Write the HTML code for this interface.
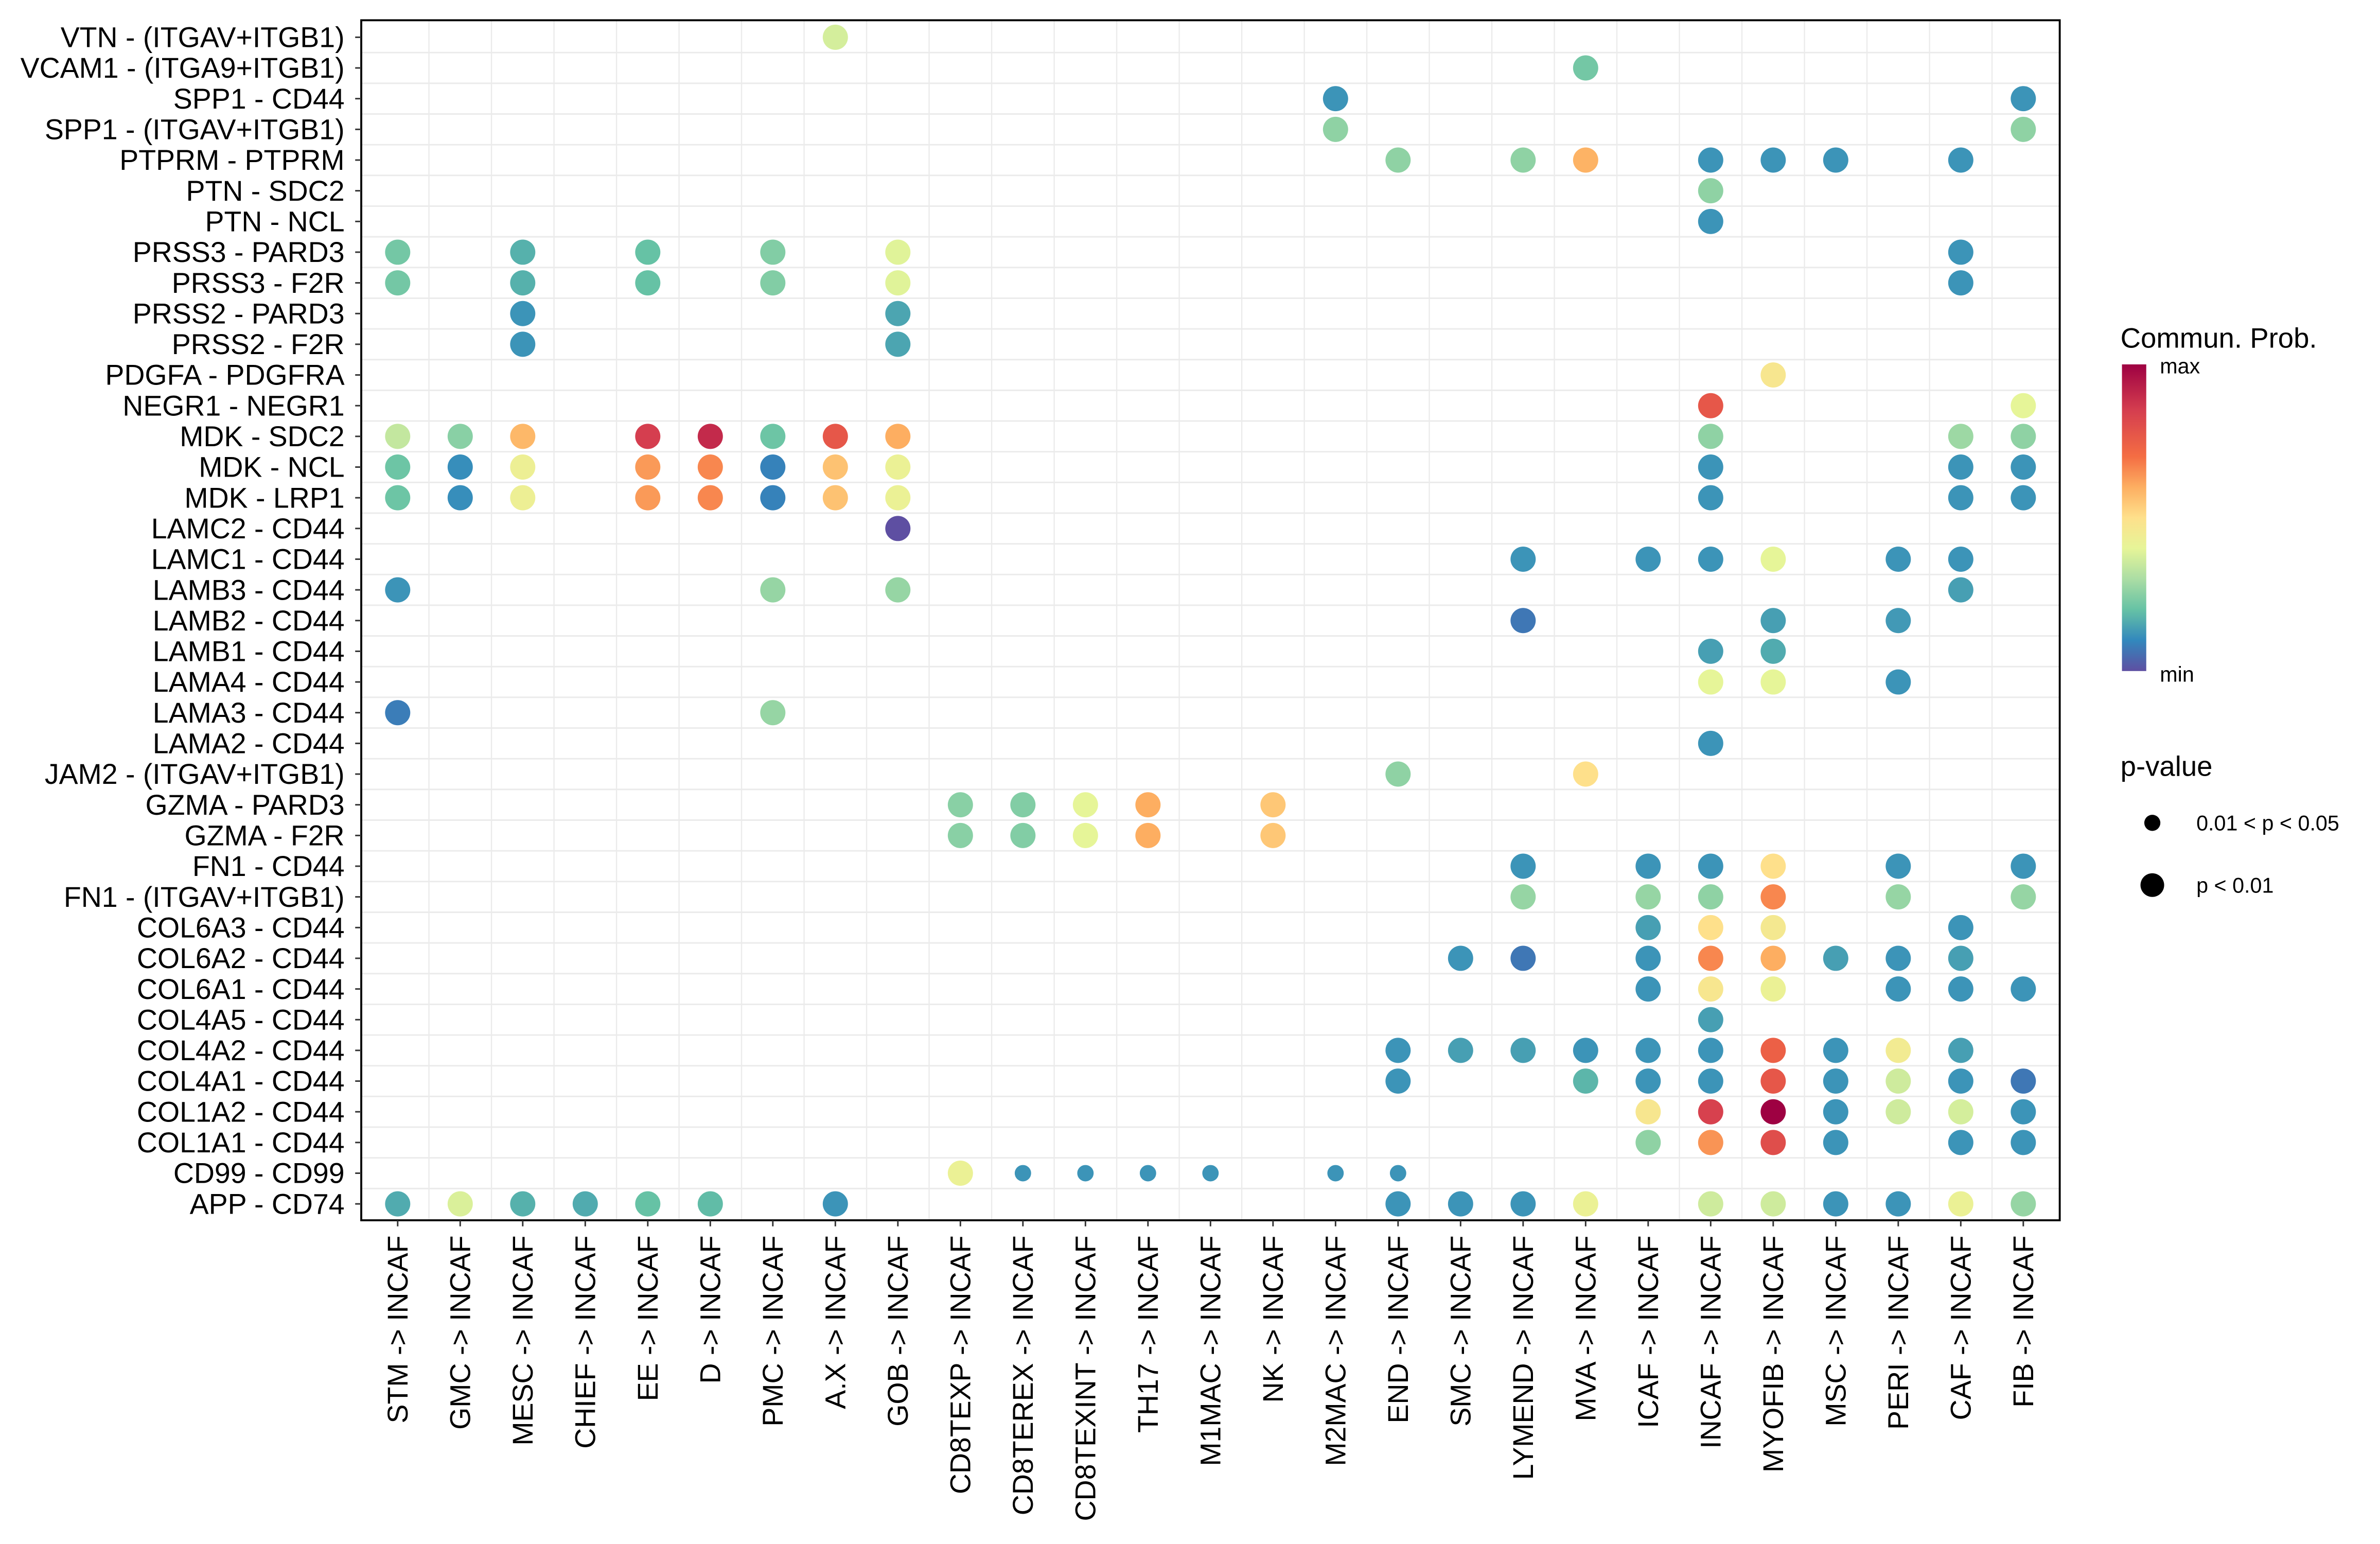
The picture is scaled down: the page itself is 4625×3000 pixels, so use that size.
<!DOCTYPE html>
<html><head><meta charset="utf-8"><style>
html,body{margin:0;padding:0;background:#fff;}
svg{display:block;}
text{font-family:"Liberation Sans",Arial,sans-serif;fill:#000;}
</style></head>
<body>
<svg id="chart" width="4625" height="3000" viewBox="0 0 1568 1017" xmlns="http://www.w3.org/2000/svg">
<defs>
<linearGradient id="spec" x1="0" y1="1" x2="0" y2="0">
<stop offset="0" stop-color="#5E4FA2"/><stop offset="0.1" stop-color="#3288BD"/><stop offset="0.2" stop-color="#66C2A5"/>
<stop offset="0.3" stop-color="#ABDDA4"/><stop offset="0.4" stop-color="#E6F598"/><stop offset="0.5" stop-color="#FEE08B"/>
<stop offset="0.6" stop-color="#FDAE61"/><stop offset="0.7" stop-color="#F46D43"/><stop offset="0.85" stop-color="#D53E4F"/><stop offset="1" stop-color="#9E0142"/>
</linearGradient>
</defs>
<g id="grid"></g>
<g id="points"></g>
<rect x="238" y="13.3" width="1119" height="790.5" fill="none" stroke="#000" stroke-width="1.3"/>
<g id="yaxis"></g>
<g id="xaxis"></g>
<g>
<text x="1397" y="229" font-size="18.5">Commun. Prob.</text>
<rect x="1398" y="240" width="16" height="202" fill="url(#spec)"/>
<text x="1423" y="246" font-size="14">max</text>
<text x="1423" y="449" font-size="14">min</text>
</g>
<g>
<text x="1397" y="511" font-size="18.5">p-value</text>
<circle cx="1418" cy="542" r="5.3" fill="#000"/>
<circle cx="1418" cy="583" r="7.8" fill="#000"/>
<text x="1447" y="547" font-size="14">0.01 &lt; p &lt; 0.05</text>
<text x="1447" y="588" font-size="14">p &lt; 0.01</text>
</g>
</svg>
<script>
const columns=["STM","GMC","MESC","CHIEF","EE","D","PMC","A.X","GOB","CD8TEXP","CD8TEREX","CD8TEXINT","TH17","M1MAC","NK","M2MAC","END","SMC","LYMEND","MVA","ICAF","INCAF","MYOFIB","MSC","PERI","CAF","FIB"];
const rows=["VTN - (ITGAV+ITGB1)","VCAM1 - (ITGA9+ITGB1)","SPP1 - CD44","SPP1 - (ITGAV+ITGB1)","PTPRM - PTPRM","PTN - SDC2","PTN - NCL","PRSS3 - PARD3","PRSS3 - F2R","PRSS2 - PARD3","PRSS2 - F2R","PDGFA - PDGFRA","NEGR1 - NEGR1","MDK - SDC2","MDK - NCL","MDK - LRP1","LAMC2 - CD44","LAMC1 - CD44","LAMB3 - CD44","LAMB2 - CD44","LAMB1 - CD44","LAMA4 - CD44","LAMA3 - CD44","LAMA2 - CD44","JAM2 - (ITGAV+ITGB1)","GZMA - PARD3","GZMA - F2R","FN1 - CD44","FN1 - (ITGAV+ITGB1)","COL6A3 - CD44","COL6A2 - CD44","COL6A1 - CD44","COL4A5 - CD44","COL4A2 - CD44","COL4A1 - CD44","COL1A2 - CD44","COL1A1 - CD44","CD99 - CD99","APP - CD74"];
// [row, column, prob (0..1), significant p<0.01 ? 1 : 0]
const pointData=[
["VTN - (ITGAV+ITGB1)","A.X",0.37,1],
["VCAM1 - (ITGA9+ITGB1)","MVA",0.22,1],
["SPP1 - CD44","M2MAC",0.12,1],["SPP1 - CD44","FIB",0.12,1],
["SPP1 - (ITGAV+ITGB1)","M2MAC",0.26,1],["SPP1 - (ITGAV+ITGB1)","FIB",0.26,1],
["PTPRM - PTPRM","END",0.26,1],["PTPRM - PTPRM","LYMEND",0.26,1],["PTPRM - PTPRM","MVA",0.59,1],["PTPRM - PTPRM","INCAF",0.12,1],["PTPRM - PTPRM","MYOFIB",0.12,1],["PTPRM - PTPRM","MSC",0.12,1],["PTPRM - PTPRM","CAF",0.12,1],
["PTN - SDC2","INCAF",0.26,1],
["PTN - NCL","INCAF",0.12,1],
["PRSS3 - PARD3","STM",0.22,1],["PRSS3 - PARD3","MESC",0.17,1],["PRSS3 - PARD3","EE",0.2,1],["PRSS3 - PARD3","PMC",0.24,1],["PRSS3 - PARD3","GOB",0.39,1],["PRSS3 - PARD3","CAF",0.12,1],
["PRSS3 - F2R","STM",0.22,1],["PRSS3 - F2R","MESC",0.17,1],["PRSS3 - F2R","EE",0.2,1],["PRSS3 - F2R","PMC",0.24,1],["PRSS3 - F2R","GOB",0.39,1],["PRSS3 - F2R","CAF",0.12,1],
["PRSS2 - PARD3","MESC",0.12,1],["PRSS2 - PARD3","GOB",0.15,1],
["PRSS2 - F2R","MESC",0.12,1],["PRSS2 - F2R","GOB",0.15,1],
["PDGFA - PDGFRA","MYOFIB",0.47,1],
["NEGR1 - NEGR1","INCAF",0.77,1],["NEGR1 - NEGR1","FIB",0.4,1],
["MDK - SDC2","STM",0.34,1],["MDK - SDC2","GMC",0.25,1],["MDK - SDC2","MESC",0.58,1],["MDK - SDC2","EE",0.85,1],["MDK - SDC2","D",0.9,1],["MDK - SDC2","PMC",0.21,1],["MDK - SDC2","A.X",0.77,1],["MDK - SDC2","GOB",0.6,1],["MDK - SDC2","INCAF",0.26,1],["MDK - SDC2","CAF",0.28,1],["MDK - SDC2","FIB",0.26,1],
["MDK - NCL","STM",0.21,1],["MDK - NCL","GMC",0.11,1],["MDK - NCL","MESC",0.43,1],["MDK - NCL","EE",0.63,1],["MDK - NCL","D",0.66,1],["MDK - NCL","PMC",0.09,1],["MDK - NCL","A.X",0.56,1],["MDK - NCL","GOB",0.42,1],["MDK - NCL","INCAF",0.12,1],["MDK - NCL","CAF",0.12,1],["MDK - NCL","FIB",0.12,1],
["MDK - LRP1","STM",0.21,1],["MDK - LRP1","GMC",0.11,1],["MDK - LRP1","MESC",0.43,1],["MDK - LRP1","EE",0.63,1],["MDK - LRP1","D",0.66,1],["MDK - LRP1","PMC",0.09,1],["MDK - LRP1","A.X",0.56,1],["MDK - LRP1","GOB",0.42,1],["MDK - LRP1","INCAF",0.12,1],["MDK - LRP1","CAF",0.12,1],["MDK - LRP1","FIB",0.12,1],
["LAMC2 - CD44","GOB",0.0,1],
["LAMC1 - CD44","LYMEND",0.12,1],["LAMC1 - CD44","ICAF",0.12,1],["LAMC1 - CD44","INCAF",0.12,1],["LAMC1 - CD44","MYOFIB",0.4,1],["LAMC1 - CD44","PERI",0.12,1],["LAMC1 - CD44","CAF",0.12,1],
["LAMB3 - CD44","STM",0.12,1],["LAMB3 - CD44","PMC",0.27,1],["LAMB3 - CD44","GOB",0.27,1],["LAMB3 - CD44","CAF",0.14,1],
["LAMB2 - CD44","LYMEND",0.07,1],["LAMB2 - CD44","MYOFIB",0.14,1],["LAMB2 - CD44","PERI",0.13,1],
["LAMB1 - CD44","INCAF",0.14,1],["LAMB1 - CD44","MYOFIB",0.16,1],
["LAMA4 - CD44","INCAF",0.4,1],["LAMA4 - CD44","MYOFIB",0.4,1],["LAMA4 - CD44","PERI",0.12,1],
["LAMA3 - CD44","STM",0.08,1],["LAMA3 - CD44","PMC",0.27,1],
["LAMA2 - CD44","INCAF",0.12,1],
["JAM2 - (ITGAV+ITGB1)","END",0.26,1],["JAM2 - (ITGAV+ITGB1)","MVA",0.5,1],
["GZMA - PARD3","CD8TEXP",0.25,1],["GZMA - PARD3","CD8TEREX",0.24,1],["GZMA - PARD3","CD8TEXINT",0.4,1],["GZMA - PARD3","TH17",0.6,1],["GZMA - PARD3","NK",0.55,1],
["GZMA - F2R","CD8TEXP",0.25,1],["GZMA - F2R","CD8TEREX",0.24,1],["GZMA - F2R","CD8TEXINT",0.4,1],["GZMA - F2R","TH17",0.6,1],["GZMA - F2R","NK",0.55,1],
["FN1 - CD44","LYMEND",0.12,1],["FN1 - CD44","ICAF",0.12,1],["FN1 - CD44","INCAF",0.12,1],["FN1 - CD44","MYOFIB",0.5,1],["FN1 - CD44","PERI",0.12,1],["FN1 - CD44","FIB",0.12,1],
["FN1 - (ITGAV+ITGB1)","LYMEND",0.27,1],["FN1 - (ITGAV+ITGB1)","ICAF",0.27,1],["FN1 - (ITGAV+ITGB1)","INCAF",0.26,1],["FN1 - (ITGAV+ITGB1)","MYOFIB",0.66,1],["FN1 - (ITGAV+ITGB1)","PERI",0.27,1],["FN1 - (ITGAV+ITGB1)","FIB",0.27,1],
["COL6A3 - CD44","ICAF",0.14,1],["COL6A3 - CD44","INCAF",0.5,1],["COL6A3 - CD44","MYOFIB",0.46,1],["COL6A3 - CD44","CAF",0.12,1],
["COL6A2 - CD44","SMC",0.12,1],["COL6A2 - CD44","LYMEND",0.07,1],["COL6A2 - CD44","ICAF",0.12,1],["COL6A2 - CD44","INCAF",0.66,1],["COL6A2 - CD44","MYOFIB",0.6,1],["COL6A2 - CD44","MSC",0.14,1],["COL6A2 - CD44","PERI",0.12,1],["COL6A2 - CD44","CAF",0.14,1],
["COL6A1 - CD44","ICAF",0.12,1],["COL6A1 - CD44","INCAF",0.47,1],["COL6A1 - CD44","MYOFIB",0.42,1],["COL6A1 - CD44","PERI",0.12,1],["COL6A1 - CD44","CAF",0.12,1],["COL6A1 - CD44","FIB",0.12,1],
["COL4A5 - CD44","INCAF",0.14,1],
["COL4A2 - CD44","END",0.12,1],["COL4A2 - CD44","SMC",0.14,1],["COL4A2 - CD44","LYMEND",0.14,1],["COL4A2 - CD44","MVA",0.12,1],["COL4A2 - CD44","ICAF",0.12,1],["COL4A2 - CD44","INCAF",0.12,1],["COL4A2 - CD44","MYOFIB",0.74,1],["COL4A2 - CD44","MSC",0.12,1],["COL4A2 - CD44","PERI",0.45,1],["COL4A2 - CD44","CAF",0.14,1],
["COL4A1 - CD44","END",0.12,1],["COL4A1 - CD44","MVA",0.18,1],["COL4A1 - CD44","ICAF",0.12,1],["COL4A1 - CD44","INCAF",0.12,1],["COL4A1 - CD44","MYOFIB",0.77,1],["COL4A1 - CD44","MSC",0.12,1],["COL4A1 - CD44","PERI",0.36,1],["COL4A1 - CD44","CAF",0.12,1],["COL4A1 - CD44","FIB",0.07,1],
["COL1A2 - CD44","ICAF",0.47,1],["COL1A2 - CD44","INCAF",0.84,1],["COL1A2 - CD44","MYOFIB",1.0,1],["COL1A2 - CD44","MSC",0.12,1],["COL1A2 - CD44","PERI",0.36,1],["COL1A2 - CD44","CAF",0.37,1],["COL1A2 - CD44","FIB",0.12,1],
["COL1A1 - CD44","ICAF",0.26,1],["COL1A1 - CD44","INCAF",0.64,1],["COL1A1 - CD44","MYOFIB",0.8,1],["COL1A1 - CD44","MSC",0.12,1],["COL1A1 - CD44","CAF",0.12,1],["COL1A1 - CD44","FIB",0.12,1],
["CD99 - CD99","CD8TEXP",0.42,1],["CD99 - CD99","CD8TEREX",0.12,0],["CD99 - CD99","CD8TEXINT",0.12,0],["CD99 - CD99","TH17",0.12,0],["CD99 - CD99","M1MAC",0.12,0],["CD99 - CD99","M2MAC",0.12,0],["CD99 - CD99","END",0.12,0],
["APP - CD74","STM",0.16,1],["APP - CD74","GMC",0.38,1],["APP - CD74","MESC",0.17,1],["APP - CD74","CHIEF",0.16,1],["APP - CD74","EE",0.2,1],["APP - CD74","D",0.19,1],["APP - CD74","A.X",0.12,1],["APP - CD74","END",0.12,1],["APP - CD74","SMC",0.12,1],["APP - CD74","LYMEND",0.12,1],["APP - CD74","MVA",0.42,1],["APP - CD74","INCAF",0.36,1],["APP - CD74","MYOFIB",0.36,1],["APP - CD74","MSC",0.12,1],["APP - CD74","PERI",0.12,1],["APP - CD74","CAF",0.42,1],["APP - CD74","FIB",0.27,1]
];
(function(){
const NS="http://www.w3.org/2000/svg";
const pLeft=238,pRight=1357,pTop=13.3,pBottom=803.8;
const x0=262,x1=1333,y0=24.5,y1=793;
function xScale(c){const i=columns.indexOf(c);return x0+i*((x1-x0)/(columns.length-1));}
function yScale(r){const i=rows.indexOf(r);return y0+i*((y1-y0)/(rows.length-1));}
const stops=[[0,[94,79,162]],[0.1,[50,136,189]],[0.2,[102,194,165]],[0.3,[171,221,164]],[0.4,[230,245,152]],[0.5,[254,224,139]],[0.6,[253,174,97]],[0.7,[244,109,67]],[0.85,[213,62,79]],[1,[158,1,66]]];
function color(v){for(let i=1;i<stops.length;i++){if(v<=stops[i][0]){const a=stops[i-1],b=stops[i];const t=(v-a[0])/(b[0]-a[0]);const c=a[1].map((x,k)=>Math.round(x+(b[1][k]-x)*t));return 'rgb('+c.join(',')+')';}}return 'rgb(158,1,66)';}
function mk(tag,attrs){const e=document.createElementNS(NS,tag);for(const k in attrs)e.setAttribute(k,attrs[k]);return e;}
const grid=document.getElementById('grid');
const dx=(x1-x0)/(columns.length-1),dy=(y1-y0)/(rows.length-1);
for(let i=0;i<columns.length-1;i++){
 const gx=xScale(columns[i])+dx/2;
 const l=mk('line',{x1:gx,x2:gx,y1:pTop,y2:pBottom,stroke:'#EBEBEB','stroke-width':0.8});
 
 
 grid.appendChild(l);
}
for(let i=0;i<rows.length-1;i++){
 const gy=yScale(rows[i])+dy/2;
 const l=mk('line',{x1:pLeft,x2:pRight,y1:gy,y2:gy,stroke:'#EBEBEB','stroke-width':1});
 
 
 grid.appendChild(l);
}
const yax=document.getElementById('yaxis');
rows.forEach(function(r){const y=yScale(r);
 const t=mk('line',{x1:pLeft-4,x2:pLeft,y1:y,y2:y,stroke:'#333','stroke-width':1});
 
 
 yax.appendChild(t);
 const tx=mk('text',{x:pLeft-11,y:y+6.5,'text-anchor':'end','font-size':18.8});
 tx.textContent=r;
 
 
 yax.appendChild(tx);});
const xax=document.getElementById('xaxis');
columns.forEach(function(c){const x=xScale(c);
 const t=mk('line',{x1:x,x2:x,y1:pBottom,y2:pBottom+4,stroke:'#333','stroke-width':1});
 
 
 xax.appendChild(t);
 const tx=mk('text',{x:0,y:0,'text-anchor':'end','font-size':18.8,transform:'translate('+(x+6.5)+','+(pBottom+10)+') rotate(-90)'});
 tx.textContent=c+' -> INCAF';
 
 
 xax.appendChild(tx);});
const pts=document.getElementById('points');
pointData.forEach(function(d){
 const c=mk('circle',{cx:xScale(d[1]),cy:yScale(d[0]),r:d[3]?8.3:5.4,fill:color(d[2])});
 
 
 pts.appendChild(c);});
})();
</script>
</body></html>
